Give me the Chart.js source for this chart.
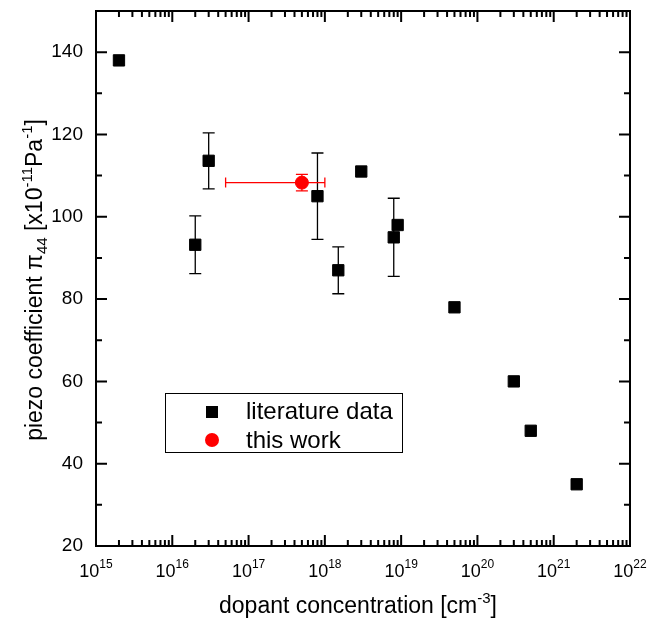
<!DOCTYPE html>
<html lang="en">
  <head>
    <meta charset="UTF-8" />
    <title>Piezo coefficient vs dopant concentration</title>
    <script src="https://cdn.jsdelivr.net/npm/chart.js@4.4.1/dist/chart.umd.min.js"></script>
    <style>
      body {
        margin: 0;
        background-color: #ffffff;
      }
      .chart-container {
        width: 660px;
        height: 623px;
        position: relative;
      }
    </style>
  </head>
  <body>
    <div class="chart-container">
      <canvas id="piezoChart"></canvas>
    </div>
    <script>
      // literature data
      const litConc = [2e15, 2e16, 3e16, 8e17, 1.5e18, 3e18, 8e18, 9e18, 5e19, 3e20, 5e20, 2e21];
      const litPiezo = [138, 93.2, 113.6, 105, 87, 111, 95, 98, 78, 60, 48, 35];
      const litErr = [0, 7, 6.8, 10.5, 5.7, 0, 9.5, 0, 0, 0, 0, 0];

      // this work
      const ownConc = [5e17];
      const ownPiezo = [108.3];
      const ownErr = [2];
      const ownConcLow = [5e16];
      const ownConcHigh = [1e18];

      // axes
      const decades = [15, 16, 17, 18, 19, 20, 21, 22];
      const yMajor = [20, 40, 60, 80, 100, 120, 140];
      const yMinor = [30, 50, 70, 90, 110, 130];

      const FONT = "'Liberation Sans', Arial, sans-serif";

      const litPoints = litConc.map((c, i) => ({ x: c, y: litPiezo[i] }));
      const ownPoints = ownConc.map((c, i) => ({ x: c, y: ownPiezo[i] }));

      // draws pieces of text with sub/superscripts, centered on cx
      function drawRich(ctx, pieces, cx, baseline) {
        let total = 0;
        pieces.forEach((p) => {
          ctx.font = p.size + "px " + FONT;
          p.w = ctx.measureText(p.t).width;
          total += p.w;
        });
        let x = cx - total / 2;
        ctx.textAlign = "left";
        ctx.textBaseline = "alphabetic";
        pieces.forEach((p) => {
          ctx.font = p.size + "px " + FONT;
          ctx.fillText(p.t, x, baseline + (p.dy || 0));
          x += p.w;
        });
      }

      const errorBars = {
        id: "errorBars",
        beforeDatasetsDraw(chart) {
          const ctx = chart.ctx;
          const xs = chart.scales.x;
          const ys = chart.scales.y;
          ctx.save();
          ctx.lineWidth = 1.3;
          ctx.strokeStyle = "#000";
          litConc.forEach((c, i) => {
            if (!litErr[i]) return;
            const px = xs.getPixelForValue(c);
            const top = ys.getPixelForValue(litPiezo[i] + litErr[i]);
            const bot = ys.getPixelForValue(litPiezo[i] - litErr[i]);
            ctx.beginPath();
            ctx.moveTo(px, top);
            ctx.lineTo(px, bot);
            ctx.moveTo(px - 6, top);
            ctx.lineTo(px + 6, top);
            ctx.moveTo(px - 6, bot);
            ctx.lineTo(px + 6, bot);
            ctx.stroke();
          });
          ctx.strokeStyle = "#ff0000";
          ownConc.forEach((c, i) => {
            const py = ys.getPixelForValue(ownPiezo[i]);
            const px = xs.getPixelForValue(c);
            const lo = xs.getPixelForValue(ownConcLow[i]);
            const hi = xs.getPixelForValue(ownConcHigh[i]);
            const top = ys.getPixelForValue(ownPiezo[i] + ownErr[i]);
            const bot = ys.getPixelForValue(ownPiezo[i] - ownErr[i]);
            ctx.beginPath();
            ctx.moveTo(lo, py);
            ctx.lineTo(hi, py);
            ctx.moveTo(lo, py - 5);
            ctx.lineTo(lo, py + 5);
            ctx.moveTo(hi, py - 5);
            ctx.lineTo(hi, py + 5);
            ctx.moveTo(px, top);
            ctx.lineTo(px, bot);
            ctx.moveTo(px - 6, top);
            ctx.lineTo(px + 6, top);
            ctx.moveTo(px - 6, bot);
            ctx.lineTo(px + 6, bot);
            ctx.stroke();
          });
          ctx.restore();
        },
      };

      const frameAndText = {
        id: "frameAndText",
        afterDraw(chart) {
          const ctx = chart.ctx;
          const a = chart.chartArea;
          const xs = chart.scales.x;
          const ys = chart.scales.y;
          ctx.save();
          ctx.strokeStyle = "#000";
          ctx.fillStyle = "#000";
          ctx.lineWidth = 2;
          ctx.strokeRect(a.left, a.top, a.right - a.left, a.bottom - a.top);

          // inward ticks on all four sides
          ctx.beginPath();
          yMajor.forEach((v) => {
            const py = ys.getPixelForValue(v);
            ctx.moveTo(a.left, py);
            ctx.lineTo(a.left + 11, py);
            ctx.moveTo(a.right, py);
            ctx.lineTo(a.right - 11, py);
          });
          yMinor.forEach((v) => {
            const py = ys.getPixelForValue(v);
            ctx.moveTo(a.left, py);
            ctx.lineTo(a.left + 6, py);
            ctx.moveTo(a.right, py);
            ctx.lineTo(a.right - 6, py);
          });
          decades.forEach((e) => {
            const px = xs.getPixelForValue(Math.pow(10, e));
            ctx.moveTo(px, a.bottom);
            ctx.lineTo(px, a.bottom - 11);
            ctx.moveTo(px, a.top);
            ctx.lineTo(px, a.top + 11);
            if (e === decades[decades.length - 1]) return;
            for (let m = 2; m <= 9; m++) {
              const mx = xs.getPixelForValue(m * Math.pow(10, e));
              ctx.moveTo(mx, a.bottom);
              ctx.lineTo(mx, a.bottom - 6);
              ctx.moveTo(mx, a.top);
              ctx.lineTo(mx, a.top + 6);
            }
          });
          ctx.stroke();

          // x tick labels 10^n
          decades.forEach((e) => {
            const px = xs.getPixelForValue(Math.pow(10, e));
            drawRich(ctx, [
              { t: "10", size: 18 },
              { t: String(e), size: 12, dy: -9 },
            ], px, 577);
          });

          // axis titles
          drawRich(ctx, [
            { t: "dopant concentration [cm", size: 23 },
            { t: "-3", size: 15, dy: -10 },
            { t: "]", size: 23 },
          ], 358, 613);

          ctx.save();
          ctx.translate(42, 280);
          ctx.rotate(-Math.PI / 2);
          drawRich(ctx, [
            { t: "piezo coefficient π", size: 23 },
            { t: "44", size: 15, dy: 5 },
            { t: " [x10", size: 23 },
            { t: "-11", size: 15, dy: -10 },
            { t: "Pa", size: 23 },
            { t: "-1", size: 15, dy: -10 },
            { t: "]", size: 23 },
          ], 0, 0);
          ctx.restore();

          // legend
          ctx.lineWidth = 1;
          ctx.strokeRect(165.5, 393.5, 237, 59);
          ctx.fillRect(206, 406, 12, 12);
          ctx.fillStyle = "#ff0000";
          ctx.beginPath();
          ctx.arc(212, 440, 7, 0, Math.PI * 2);
          ctx.fill();
          ctx.fillStyle = "#000";
          ctx.font = "24px " + FONT;
          ctx.textAlign = "left";
          ctx.textBaseline = "middle";
          ctx.fillText("literature data", 246, 412);
          ctx.fillText("this work", 246, 441);
          ctx.restore();
        },
      };

      const ctx = document.getElementById("piezoChart").getContext("2d");
      const piezoChart = new Chart(ctx, {
        type: "scatter",
        data: {
          datasets: [
            {
              label: "literature data",
              data: litPoints,
              pointStyle: "rect",
              pointRadius: 8,
              pointBackgroundColor: "#000",
              pointBorderColor: "#000",
              pointBorderWidth: 1,
            },
            {
              label: "this work",
              data: ownPoints,
              pointStyle: "circle",
              pointRadius: 6.5,
              pointBackgroundColor: "#ff0000",
              pointBorderColor: "#ff0000",
              pointBorderWidth: 1,
            },
          ],
        },
        options: {
          responsive: true,
          maintainAspectRatio: false,
          animation: false,
          events: [],
          layout: { padding: { top: 11, right: 30, left: 0, bottom: 0 } },
          scales: {
            x: {
              type: "logarithmic",
              min: 1e15,
              max: 1e22,
              grid: { display: false, drawTicks: false },
              border: { display: false },
              ticks: { display: false },
              afterFit: (s) => {
                s.height = 77;
                s.paddingLeft = 0;
                s.paddingRight = 0;
              },
            },
            y: {
              min: 20,
              max: 150,
              grid: { display: false, drawTicks: false },
              border: { display: false },
              ticks: {
                stepSize: 20,
                includeBounds: false,
                padding: 13,
                color: "#000",
                font: { family: FONT, size: 19 },
                callback: (v) => (v < 150 ? v : ""),
              },
              afterFit: (s) => {
                s.width = 96;
                s.paddingTop = 0;
                s.paddingBottom = 0;
              },
            },
          },
          plugins: {
            legend: { display: false },
            tooltip: { enabled: false },
          },
        },
        plugins: [errorBars, frameAndText],
      });
    </script>
  </body>
</html>
